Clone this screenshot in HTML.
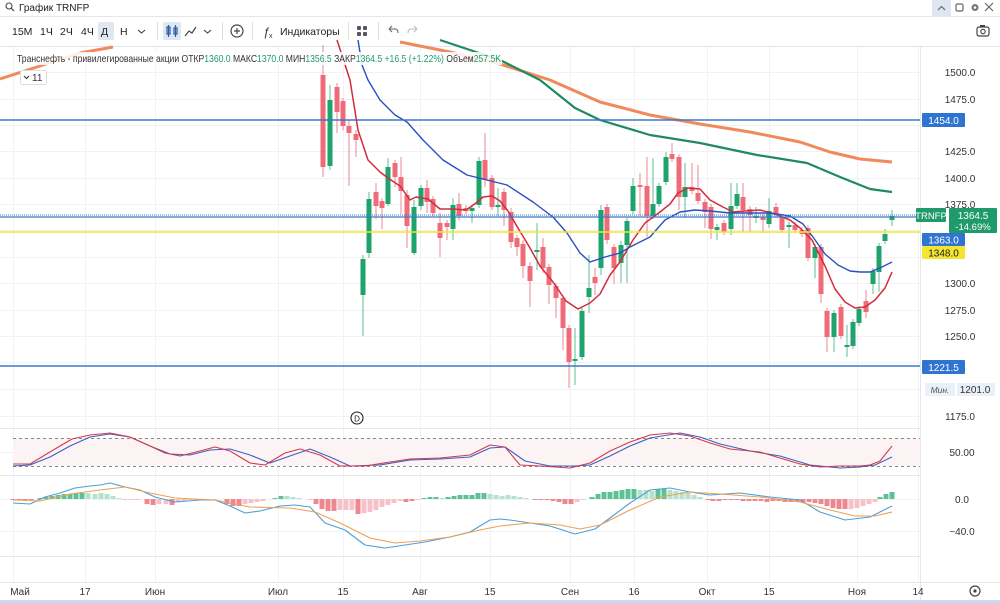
<!DOCTYPE html>
<html><head><meta charset="utf-8"><style>
html,body{margin:0;padding:0;background:#fff;width:1000px;height:603px;overflow:hidden;font-family:"Liberation Sans","DejaVu Sans",sans-serif}
svg{display:block}
</style></head><body>
<svg id="s" width="1000" height="603" viewBox="0 0 1000 603" xmlns="http://www.w3.org/2000/svg" font-family="Liberation Sans, DejaVu Sans, sans-serif">
<rect width="1000" height="603" fill="#fff"/>
<g id="grid" stroke="#f0f2f5" stroke-width="1"></g>
<line x1="0" y1="46.5" x2="1000" y2="46.5" stroke="#e3e6ea"/>
<line x1="0" y1="16.5" x2="1000" y2="16.5" stroke="#e3e6ea"/>
<line x1="0" y1="428.5" x2="920" y2="428.5" stroke="#e6e8eb"/>
<line x1="0" y1="475.5" x2="920" y2="475.5" stroke="#e6e8eb"/>
<line x1="0" y1="556.5" x2="920" y2="556.5" stroke="#e6e8eb"/>
<line x1="0" y1="582.5" x2="1000" y2="582.5" stroke="#e6e8eb"/>
<line x1="920.5" y1="47" x2="920.5" y2="600" stroke="#e3e6ea"/>
<rect x="0" y="600" width="1000" height="3" fill="#c9dcef"/>
<rect x="13" y="438" width="907" height="28" fill="#fcf4f4"/>
<line x1="13" y1="438.5" x2="920" y2="438.5" stroke="#888" stroke-dasharray="3,3"/>
<line x1="13" y1="466.5" x2="920" y2="466.5" stroke="#888" stroke-dasharray="3,3"/>
<g id="dyn"></g>
<line x1="0" y1="120" x2="920" y2="120" stroke="#3a78c9" stroke-width="1.6"/>
<line x1="0" y1="366" x2="920" y2="366" stroke="#3a78c9" stroke-width="1.6"/>
<line x1="0" y1="215" x2="920" y2="215" stroke="#3a78c9" stroke-width="1" stroke-dasharray="1,1"/>
<line x1="0" y1="217" x2="920" y2="217" stroke="#3a78c9" stroke-width="1.2"/>
<line x1="0" y1="232" x2="920" y2="232" stroke="#f2e531" stroke-width="1.6"/>
<rect x="0" y="0" width="1000" height="16" fill="#fff"/>
<circle cx="9" cy="6" r="3" fill="none" stroke="#444" stroke-width="1.1"/><line x1="11" y1="8" x2="14" y2="11" stroke="#444" stroke-width="1.2"/>
<text x="19" y="11" font-size="10" fill="#222">График TRNFP</text>
<rect x="932" y="0" width="19" height="16" fill="#dfe6ef"/>
<path d="M938 10 L941.5 6.5 L945 10" fill="none" stroke="#667" stroke-width="1.2"/>
<rect x="956" y="4" width="7" height="7" rx="1.5" fill="none" stroke="#666" stroke-width="1.2"/>
<circle cx="975" cy="7.5" r="3.5" fill="#777"/><circle cx="975" cy="7.5" r="1.3" fill="#fff"/>
<path d="M985 3 L993 11 M993 3 L985 11" stroke="#666" stroke-width="1.2"/>
<g font-size="10.5" fill="#222">
<text x="12" y="35">15M</text><text x="40" y="35">1Ч</text><text x="60" y="35">2Ч</text><text x="81" y="35">4Ч</text>
<rect x="98" y="22" width="16" height="18" rx="2" fill="#e1e7ef"/>
<text x="101" y="35">Д</text><text x="120" y="35">Н</text>
<path d="M138 30 L141.5 33 L145 30" fill="none" stroke="#444" stroke-width="1.1"/>
<line x1="157.5" y1="22" x2="157.5" y2="40" stroke="#ddd"/>
<rect x="163" y="22" width="18" height="18" rx="2" fill="#e1e7ef"/>
<g stroke="#2a5fa8" stroke-width="1.2" fill="none"><rect x="167" y="27" width="3" height="7"/><line x1="168.5" y1="25" x2="168.5" y2="37"/><rect x="174" y="28" width="3" height="6"/><line x1="175.5" y1="25" x2="175.5" y2="37"/></g>
<path d="M185 36 L189 31 L192 33 L196 27" fill="none" stroke="#444" stroke-width="1.2"/>
<path d="M204 30 L207.5 33 L211 30" fill="none" stroke="#444" stroke-width="1.1"/>
<line x1="222.5" y1="22" x2="222.5" y2="40" stroke="#ddd"/>
<circle cx="237" cy="31" r="6" fill="none" stroke="#444" stroke-width="1.2"/><path d="M237 28 V34 M234 31 H240" stroke="#444" stroke-width="1.2"/>
<line x1="252.5" y1="22" x2="252.5" y2="40" stroke="#ddd"/>
<text x="263" y="36" font-size="12" font-style="italic" fill="#333">ƒ</text><text x="269" y="38" font-size="7" fill="#333">x</text>
<text x="280" y="35">Индикаторы</text>
<line x1="348.5" y1="22" x2="348.5" y2="40" stroke="#ddd"/>
<g fill="#556"><rect x="357" y="26" width="4" height="4" rx="1"/><rect x="363" y="26" width="4" height="4" rx="1"/><rect x="357" y="32" width="4" height="4" rx="1"/><rect x="363" y="32" width="4" height="4" rx="1"/></g>
<line x1="378.5" y1="22" x2="378.5" y2="40" stroke="#ddd"/>
<path d="M389 29 L392 26 M389 29 L392 32 M389 29 H395 Q398 29 398 33" fill="none" stroke="#666" stroke-width="1.1"/>
<path d="M417 29 L414 26 M417 29 L414 32 M417 29 H411 Q408 29 408 33" fill="none" stroke="#bbb" stroke-width="1.1"/>
<rect x="977" y="27" width="12" height="9" rx="2" fill="none" stroke="#444" stroke-width="1.2"/><circle cx="983" cy="31.5" r="2.2" fill="none" stroke="#444" stroke-width="1.1"/><rect x="980" y="25" width="5" height="2" fill="#444"/>
</g>
<rect x="16" y="52" width="486" height="13" fill="#fff" opacity="0.85"/>
<text x="17" y="62" font-size="10.5" fill="#333" textLength="484" lengthAdjust="spacingAndGlyphs">Транснефть - привилегированные акции ОТКР<tspan fill="#1f9a6a">1360.0</tspan> МАКС<tspan fill="#1f9a6a">1370.0</tspan> МИН<tspan fill="#1f9a6a">1356.5</tspan> ЗАКР<tspan fill="#1f9a6a">1364.5</tspan> <tspan fill="#1f9a6a">+16.5 (+1.22%)</tspan> Объем<tspan fill="#1f9a6a">257.5K</tspan></text>
<rect x="20.5" y="70.5" width="26" height="14" rx="2" fill="#fff" stroke="#ddd"/>
<path d="M24 76 L26.5 78.5 L29 76" fill="none" stroke="#333" stroke-width="1.1"/>
<text x="32" y="81" font-size="10" fill="#333">11</text>
<circle cx="357" cy="418" r="6" fill="#fff" stroke="#222" stroke-width="1.1"/><text x="357" y="421.5" font-size="8" text-anchor="middle" fill="#222">D</text>
<g font-size="10" fill="#333" text-anchor="middle">
<text x="960" y="76">1500.0</text><text x="960" y="103">1475.0</text><text x="960" y="155">1425.0</text><text x="960" y="182">1400.0</text><text x="960" y="208">1375.0</text><text x="960" y="287">1300.0</text><text x="960" y="314">1275.0</text><text x="960" y="340">1250.0</text><text x="960" y="420">1175.0</text>
<text x="962" y="456">50.00</text><text x="962" y="503">0.0</text><text x="962" y="535">−40.0</text>
</g>
<rect x="922" y="113" width="43" height="14" rx="1" fill="#2f74d0"/><text x="943.5" y="124" font-size="10" fill="#fff" text-anchor="middle">1454.0</text>
<rect x="916" y="208" width="30" height="14" rx="1" fill="#1f9a6a"/><text x="931" y="219" font-size="9.5" fill="#fff" text-anchor="middle">TRNFP</text>
<rect x="949" y="208" width="48" height="25" rx="1" fill="#1f9a6a"/><text x="973" y="219" font-size="10" fill="#fff" text-anchor="middle">1364.5</text><text x="973" y="230" font-size="9.5" fill="#fff" text-anchor="middle">-14.69%</text>
<rect x="922" y="233" width="43" height="13" rx="1" fill="#2f74d0"/><text x="943.5" y="243.5" font-size="10" fill="#fff" text-anchor="middle">1363.0</text>
<rect x="922" y="246" width="43" height="13" rx="1" fill="#f3e530"/><text x="943.5" y="256.5" font-size="10" fill="#222" text-anchor="middle">1348.0</text>
<rect x="922" y="360" width="43" height="14" rx="1" fill="#2f74d0"/><text x="943.5" y="371" font-size="10" fill="#fff" text-anchor="middle">1221.5</text>
<rect x="925" y="383" width="30" height="13" fill="#eaf0f8"/><text x="940" y="393" font-size="8.5" font-style="italic" fill="#555" text-anchor="middle">Мин.</text>
<rect x="957" y="383" width="38" height="13" fill="#eaf0f8"/><text x="975" y="393" font-size="10" fill="#333" text-anchor="middle">1201.0</text>
<g font-size="10" fill="#333" text-anchor="middle">
<text x="20" y="595">Май</text><text x="85" y="595">17</text><text x="155" y="595">Июн</text><text x="278" y="595">Июл</text><text x="343" y="595">15</text><text x="420" y="595">Авг</text><text x="490" y="595">15</text><text x="570" y="595">Сен</text><text x="634" y="595">16</text><text x="707" y="595">Окт</text><text x="769" y="595">15</text><text x="857" y="595">Ноя</text><text x="918" y="595">14</text>
</g>
<circle cx="975" cy="591" r="5" fill="none" stroke="#444" stroke-width="1.2"/><circle cx="975" cy="591" r="1.6" fill="#444"/>
</svg>
<script>
(function(){
var NS="http://www.w3.org/2000/svg";
var dyn=document.getElementById('dyn'),grid=document.getElementById('grid');
function el(t,a,p){var e=document.createElementNS(NS,t);for(var k in a)e.setAttribute(k,a[k]);(p||dyn).appendChild(e);return e;}
[13,85,155,278,343,420,490,570,634,707,769,857,918].forEach(function(x){el('line',{x1:x+.5,y1:47,x2:x+.5,y2:582},grid);});
[72,99,125,151,178,204,230,257,283,310,336,362,389,416,452,499,531].forEach(function(y){el('line',{x1:0,y1:y+.5,x2:920,y2:y+.5},grid);});
function pl(pts,c,w){el('polyline',{points:pts.map(function(p){return p.join(',')}).join(' '),fill:'none',stroke:c,'stroke-width':w,'stroke-linejoin':'round'});}
var H=[[13,-1],[19,-1],[25,-1],[31,-1],[40,1],[46,2],[52,3],[58,4],[64,5],[70,5],[76,6],[82,6],[88,6,1],[95,5,1],[101,6,1],[107,5,1],[113,3,1],[119,1,1],[125,-1,1],[131,-1,1],[137,-1,1],[147,-5],[153,-6],[159,-5,1],[166,-5,1],[172,-6],[178,-3,1],[184,-2,1],[190,-1,1],[196,-1,1],[202,-1,1],[208,-1,1],[214,-1,1],[227,-5],[233,-7],[239,-7],[245,-5,1],[251,-4,1],[257,-3,1],[263,-2,1],[275,1],[281,3],[287,3,1],[293,2,1],[299,1,1],[310,-1,1],[316,-5],[322,-10],[328,-12],[334,-12],[340,-11,1],[346,-11,1],[352,-11,1],[358,-15],[364,-14,1],[370,-13,1],[376,-11,1],[382,-8,1],[388,-6,1],[394,-4,1],[400,-2,1],[406,-3],[412,-2],[418,-1,1],[424,1],[430,2],[436,2],[442,1,1],[448,2],[454,3],[460,4],[466,4],[472,4],[478,6],[484,6],[490,5,1],[496,4,1],[502,3,1],[508,4,1],[514,3,1],[520,2,1],[526,1,1],[535,-1],[541,-1],[547,-1],[553,-2],[559,-3],[565,-5],[571,-5],[577,-3,1],[583,-1,1],[592,2],[598,5],[604,7],[610,7],[616,8],[622,9],[628,10],[634,10],[640,9,1],[646,9,1],[652,8,1],[658,10],[664,10],[670,9,1],[676,8,1],[682,7,1],[688,6,1],[694,4,1],[700,2,1],[708,-1],[713,-2],[719,-2],[725,-1],[731,-1],[737,-1],[743,-2],[749,-2],[755,-2],[761,-2],[767,-3],[773,-2],[779,-2],[785,-3],[791,-3],[797,-3],[803,-3],[809,-3],[815,-4],[821,-5],[827,-7],[833,-9],[839,-10],[845,-10],[851,-10,1],[857,-9,1],[863,-7,1],[869,-5,1],[875,-3,1],[880,2],[886,5],[892,7]];
H.forEach(function(h){var v=h[1]*1.0,c;if(v>=0)c=h[2]?'#b5e2cd':'#5cc194';else c=h[2]?'#f7c1c8':'#ee8790';
el('rect',{x:h[0]-2.5,y:v>=0?499-v:499,width:5,height:Math.max(Math.abs(v),1),fill:c});});
pl([[13,503],[30,504],[45,497],[60,493],[75,488],[90,486],[100,485],[110,483],[125,487],[140,490],[155,497],[175,502],[200,500],[215,500],[230,506],[245,513],[260,511],[280,506],[295,505],[310,507],[325,523],[345,530],[365,545],[385,548],[405,545],[425,542],[450,537],[470,532],[490,520],[500,519],[510,520],[530,523],[550,526],[575,534],[595,529],[610,518],[630,503],[650,490],[670,488],[690,492],[710,495],[740,493],[770,497],[800,500],[820,512],[845,520],[870,517],[892,506]],'#4f9ed6',1.1);
pl([[13,500],[40,501],[70,494],[100,490],[125,487],[150,493],[175,498],[215,500],[250,507],[290,508],[315,512],[340,523],[370,538],[395,543],[420,541],[450,537],[480,530],[500,526],[530,523],[560,525],[580,529],[600,525],[630,510],[660,497],[690,492],[720,494],[760,497],[800,502],[830,510],[855,516],[875,516],[892,512]],'#eba254',1.1);
pl([[13,466],[30,465],[50,457],[70,446],[90,437],[110,434],[130,437],[150,446],[170,454],[190,455],[210,450],[230,449],[250,455],[270,463],[290,456],[310,449],[330,457],[350,466],[380,465],[410,460],[440,459],[470,457],[490,448],[505,447],[525,461],[550,466],[575,466],[590,465],[610,456],[630,446],[650,438],[680,433],[700,437],[720,444],[750,451],[780,456],[810,465],[840,468],[860,467],[875,465],[892,457]],'#3b5fc4',1.1);
pl([[13,464],[30,464],[45,455],[60,446],[72,439],[90,435],[110,433],[130,437],[150,446],[165,453],[180,456],[200,451],[215,447],[230,451],[250,463],[265,465],[285,453],[300,449],[320,455],[340,466],[365,466],[390,462],[410,459],[440,458],[470,455],[490,445],[505,447],[520,465],[540,466],[570,468],[590,463],[610,451],[630,442],[650,435],[670,433],[690,436],[710,443],[730,449],[760,452],[780,458],[800,464],[820,467],[840,466],[860,466],[870,465],[880,461],[892,446]],'#d23b4a',1.1);
pl([[0,79],[40,66],[80,53],[113,47]],'#f08a5d',3);
pl([[400,42],[450,52],[500,64],[550,80],[600,102],[650,115],[700,124],[750,132],[800,142],[830,152],[860,159],[892,162]],'#f08a5d',3);
pl([[440,40],[500,60],[540,80],[575,108],[600,120],[650,135],[700,143],[757,155],[807,163],[840,177],[870,189],[892,192]],'#1f8a5e',2.2);
var C=[[323,75,167,0,45,177],[330,100,166,1,85,170],[337,87,112,0,83,133],[343,101,126,0,98,130],[349,126,133,0,120,186],[356,134,140,0,130,157],[363,259,295,1,255,336],[369,199,253,1,192,258],[376,192,206,0,183,219],[382,201,208,0,198,229],[388,167,204,1,158,206],[395,163,177,0,160,187],[401,177,191,0,157,214],[407,195,226,0,190,248],[414,207,253,1,200,255],[421,188,206,1,185,210],[427,188,202,0,180,213],[433,199,213,0,196,216],[440,223,238,0,213,257],[447,223,227,0,220,240],[453,205,229,1,198,240],[459,204,216,0,193,220],[466,208,211,0,205,214],[472,208,211,1,205,223],[479,161,205,1,157,208],[485,160,180,0,133,187],[492,178,207,0,175,210],[498,205,207,1,188,216],[504,192,210,0,188,226],[511,212,242,0,208,248],[517,238,247,0,235,256],[523,244,266,0,240,278],[530,266,281,0,262,307],[537,250,252,1,223,270],[543,247,268,0,238,273],[549,267,285,0,264,304],[556,286,298,0,283,318],[563,298,328,0,295,350],[569,328,362,0,325,388],[575,359,361,1,328,385],[582,311,357,1,308,360],[589,288,297,1,255,313],[595,277,283,0,268,295],[601,210,268,1,205,275],[607,207,240,0,204,244],[614,247,268,0,244,284],[621,245,263,1,241,283],[627,221,245,1,218,283],[633,186,211,1,178,214],[640,185,187,0,173,216],[647,186,216,0,157,237],[653,204,216,1,158,219],[659,186,204,1,183,207],[666,157,182,1,152,185],[672,154,159,0,143,162],[679,157,197,0,154,210],[685,187,197,1,163,218],[692,187,191,0,163,194],[698,193,201,0,165,204],[705,202,212,0,199,228],[711,207,229,0,204,239],[717,227,230,1,224,240],[724,223,232,0,220,235],[731,206,229,1,183,235],[737,194,206,1,183,209],[743,197,210,0,183,232],[750,209,215,0,206,232],[756,216,218,1,207,223],[763,217,220,0,214,233],[769,211,224,1,198,228],[776,207,214,0,203,217],[782,217,230,0,214,233],[789,225,227,1,222,248],[795,225,230,0,222,233],[802,230,234,0,227,237],[808,228,258,0,225,261],[815,247,258,1,244,278],[821,247,294,0,244,303],[827,311,337,0,308,352],[834,313,337,1,310,352],[841,307,336,0,304,339],[847,345,347,1,325,357],[853,322,346,1,319,349],[859,309,323,1,306,326],[866,301,312,0,290,318],[873,271,284,1,268,294],[879,246,272,1,243,292],[885,234,241,1,229,244],[892,216,220,1,210,226]];
C.forEach(function(c){var col=c[3]?'#1fa36c':'#ef6b78',wc=c[3]?'#5fbf95':'#e98a93';
el('line',{x1:c[0],y1:c[4],x2:c[0],y2:c[5],stroke:wc,'stroke-width':1});
el('rect',{x:c[0]-2.5,y:c[1],width:5,height:Math.max(c[2]-c[1],1.5),fill:col});});
pl([[337,40],[350,80],[358,130],[368,160],[380,172],[388,178],[400,186],[410,200],[416,197],[428,199],[440,209],[453,209],[466,210],[476,203],[483,197],[492,196],[500,201],[508,211],[518,228],[530,248],[540,266],[553,282],[566,301],[578,309],[590,303],[600,294],[610,275],[620,262],[633,240],[645,223],[660,212],[670,204],[678,193],[688,188],[700,189],[710,200],[723,207],[733,212],[745,211],[760,210],[775,214],[790,220],[800,228],[812,240],[825,266],[835,289],[845,302],[855,308],[865,307],[875,300],[885,288],[892,272]],'#d42b3c',1.5);
pl([[358,40],[362,65],[368,80],[380,100],[395,115],[407,122],[423,140],[443,160],[467,175],[487,180],[507,185],[533,202],[553,217],[567,233],[580,253],[590,262],[605,257],[620,253],[630,247],[650,237],[665,220],[680,212],[695,210],[710,211],[730,213],[750,213],[770,213],[790,216],[803,224],[813,237],[825,254],[838,265],[850,271],[860,272],[870,272],[882,267],[892,262]],'#2b4fc0',1.4);
})();
</script>
</body></html>
